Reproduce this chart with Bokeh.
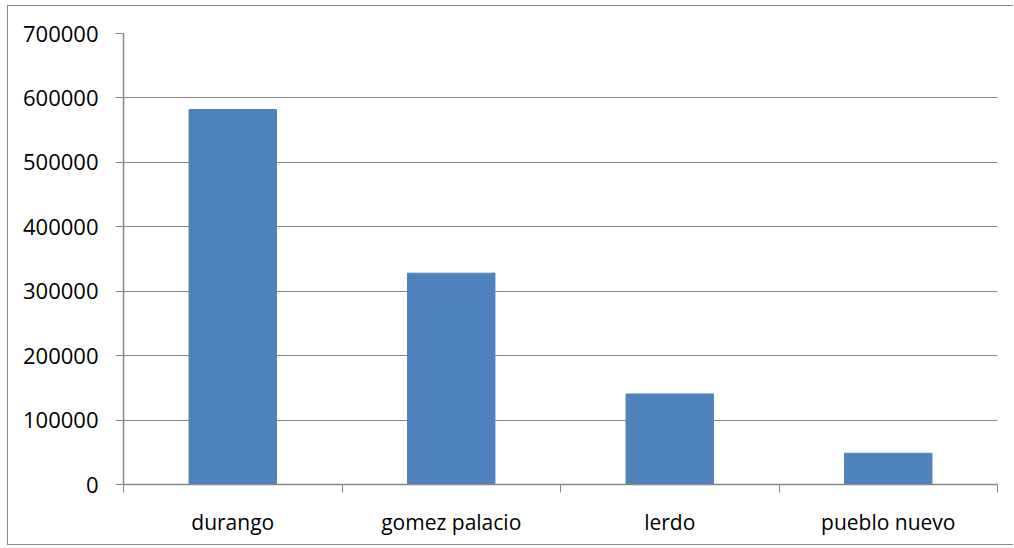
from bokeh.plotting import figure
from bokeh.models import FixedTicker, Range1d, ColumnDataSource
from bokeh.embed import file_html
from bokeh.resources import INLINE

categories = ["durango", "gomez palacio", "lerdo", "pueblo nuevo"]
values = [582000, 328000, 140500, 48500]
y_ticks = [0, 100000, 200000, 300000, 400000, 500000, 600000, 700000]

xs = [i + 0.5 for i in range(len(categories))]
src = ColumnDataSource(dict(x=xs, top=values, name=categories))

p = figure(width=1006, height=540, output_backend="svg", toolbar_location=None,
           x_range=Range1d(0, len(categories)), y_range=Range1d(0, 700000),
           min_border_left=115, min_border_right=17, min_border_top=27, min_border_bottom=62)
p.styles = {"border-top": "1px solid #8a8a8a", "border-left": "1px solid #8a8a8a",
            "border-bottom": "1px solid #8a8a8a",
            "margin-left": "7px", "margin-top": "5px"}
p.outline_line_color = None
p.background_fill_color = "white"
p.border_fill_color = "white"

p.vbar(x="x", top="top", width=0.4, bottom=0, source=src,
       fill_color="#4F81BD", line_color="#4F81BD")

GRAY = "#878787"
FONT = "Open Sans"

# y axis
p.yaxis.ticker = FixedTicker(ticks=y_ticks, minor_ticks=[])
p.yaxis.major_label_overrides = {t: str(t) for t in y_ticks}
p.yaxis.axis_line_color = GRAY
p.yaxis.axis_line_width = 1.5
p.yaxis.major_tick_line_color = GRAY
p.yaxis.major_tick_out = 8
p.yaxis.major_tick_in = 0
p.yaxis.minor_tick_line_color = None
p.yaxis.major_label_standoff = 17
p.yaxis.major_label_text_font = FONT
p.yaxis.major_label_text_font_size = "22px"
p.yaxis.major_label_text_color = "#000000"

p.ygrid.ticker = FixedTicker(ticks=y_ticks)
p.ygrid.grid_line_color = GRAY
p.ygrid.grid_line_width = 1
p.xgrid.grid_line_color = None

# x axis: labels at centres, tick marks at category boundaries
p.xaxis.ticker = FixedTicker(ticks=xs, minor_ticks=list(range(len(categories) + 1)))
p.xaxis.major_label_overrides = {x: c for x, c in zip(xs, categories)}
p.xaxis.axis_line_color = GRAY
p.xaxis.axis_line_width = 1.5
p.xaxis.major_tick_line_color = None
p.xaxis.minor_tick_line_color = GRAY
p.xaxis.minor_tick_out = 8
p.xaxis.minor_tick_in = 0
p.xaxis.major_label_standoff = 15
p.xaxis.major_label_text_font = FONT
p.xaxis.major_label_text_font_size = "21px"
p.xaxis.major_label_text_color = "#000000"

open("out.html", "w").write(file_html(p, INLINE))
